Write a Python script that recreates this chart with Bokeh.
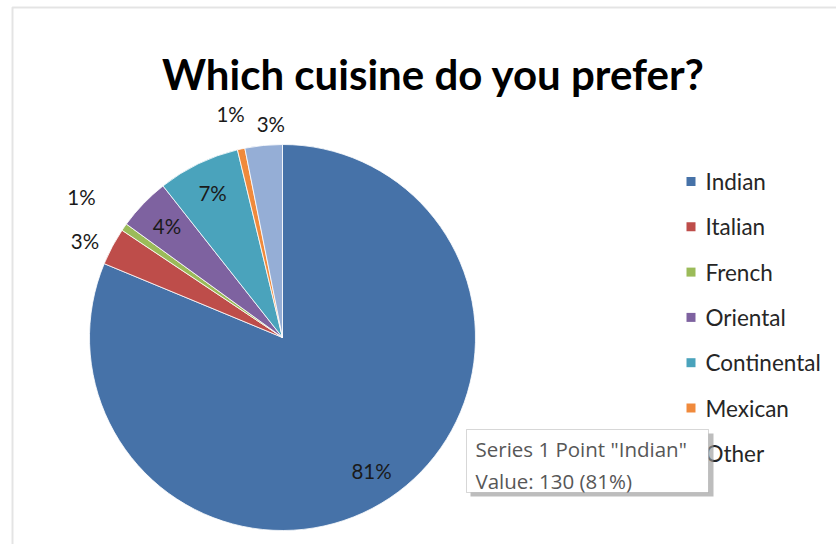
import numpy as np
from bokeh.plotting import figure
from bokeh.models import Range1d, BoxAnnotation, Label, ColumnDataSource
from bokeh.core.properties import value
from bokeh.embed import file_html
from bokeh.resources import INLINE

# ---- data ----
categories = ["Indian", "Italian", "French", "Oriental", "Continental", "Mexican", "Other"]
counts = [130, 5, 1, 7, 11, 1, 5]
colors = ["#4672A8", "#BE4D4A", "#9BBB59", "#7E62A0", "#4AA3BC", "#F08A3C", "#95AED6"]
title_text = "Which cuisine do you prefer?"
tooltip_lines = ['Series 1 Point "Indian"', "Value: 130 (81%)"]

# ---- styling / layout ----
W, H = 836, 544
CX, CY, R = 282, H - 337, 193
label_radius = [0.83, 1.14, 1.27, 0.83, 0.83, 1.19, 1.11]
label_angle_shift_deg = [0, -2, 0, 0, 0, -0.7, 2.5]
FONT = "Lato"

vals = np.array(counts, dtype=float)
frac = vals / vals.sum()
cum_end = np.cumsum(frac) * 2 * np.pi
cum_start = cum_end - frac * 2 * np.pi
mid = (cum_start + cum_end) / 2 + np.radians(label_angle_shift_deg)
pct = [f"{int(round(f * 100))}%" for f in frac]

src = ColumnDataSource(dict(
    cat=categories,
    start=np.pi / 2 - cum_start,
    end=np.pi / 2 - cum_end,
    color=colors,
    lx=CX + np.array(label_radius) * R * np.sin(mid),
    ly=CY + np.array(label_radius) * R * np.cos(mid),
    pct=pct,
))

p = figure(width=W, height=H, x_range=Range1d(0, W), y_range=Range1d(0, H),
           output_backend="svg", toolbar_location=None, min_border=0)
p.axis.visible = False
p.grid.visible = False
p.outline_line_color = None
p.background_fill_color = "white"
p.border_fill_color = "white"

# chart frame (cut off at right / bottom like the reference)
p.add_layout(BoxAnnotation(left=12, right=W + 20, top=H - 7, bottom=-20,
                           fill_alpha=0, line_color="#A6A6A6", line_width=2))

p.wedge(x=CX, y=CY, radius=R, start_angle="start", end_angle="end",
        direction="clock", fill_color="color", line_color="white",
        line_width=0.8, source=src)

p.text(x="lx", y="ly", text="pct", source=src, text_align="center",
       text_baseline="middle", text_font=value(FONT), text_font_size="20.5px",
       text_color="#1a1a1a")

# legend
leg_top = H - 181
pitch = 45.3
ly = [leg_top - i * pitch for i in range(len(categories))]
lsrc = ColumnDataSource(dict(y=ly, cat=categories, color=colors))
p.scatter(x=690.5, y="y", marker="square", size=9, fill_color="color",
          line_color=None, source=lsrc)
p.text(x=705, y="y", text="cat", source=lsrc, text_align="left",
       text_baseline="middle", text_font=value(FONT), text_font_size="22.5px",
       text_color="#262626")

# title
p.add_layout(Label(x=433, y=H - 73, text=title_text, text_align="center",
                   text_baseline="alphabetic", text_font=FONT,
                   text_font_style="bold", text_font_size="42px",
                   text_color="black"))

# tooltip (captured hover box)
p.add_layout(BoxAnnotation(left=470, right=713, top=H - 433, bottom=H - 496,
                           fill_color="#9a9a9a", fill_alpha=0.65, line_color=None))
p.add_layout(BoxAnnotation(left=466, right=708, top=H - 429, bottom=H - 492,
                           fill_color="white", fill_alpha=1, line_color="#7a7a7a",
                           line_width=1))
for i, t in enumerate(tooltip_lines):
    p.add_layout(Label(x=475, y=H - 448 - i * 32, text=t, text_align="left",
                       text_baseline="middle", text_font="Open Sans",
                       text_font_size="20.5px", text_color="#575757"))

open("out.html", "w").write(file_html(p, INLINE))
